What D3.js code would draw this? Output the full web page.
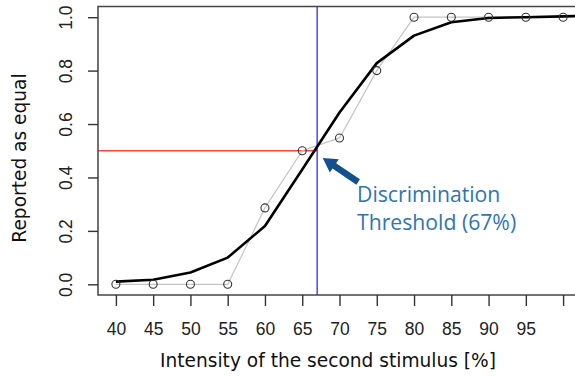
<!DOCTYPE html>
<html>
<head>
<meta charset="utf-8">
<script src="https://cdn.jsdelivr.net/npm/d3@7"></script>
<style>
  html, body { margin: 0; padding: 0; background: #fff; }
  svg { display: block; }
</style>
</head>
<body>
<div id="chart"></div>
<script>
// Observed proportions per stimulus intensity.
const intensities = [40, 45, 50, 55, 60, 65, 70, 75, 80, 85, 90, 95, 100];
const proportions = [0, 0, 0, 0, 0.286, 0.5, 0.548, 0.8, 1, 1, 1, 1, 1];

// Fitted psychometric curve.
const fitX = [40, 45, 50, 55, 60, 65, 70, 75, 80, 85, 90, 95, 100, 105];
const fitY = [0.01, 0.017, 0.044, 0.1, 0.218, 0.43, 0.643, 0.828, 0.931, 0.981, 0.997, 1.0, 1.003, 1.006];

const xTicks = [40, 45, 50, 55, 60, 65, 70, 75, 80, 85, 90, 95, 100];
const xTickLabels = ["40", "45", "50", "55", "60", "65", "70", "75", "80", "85", "90", "95", ""];
const yTicks = [0, 0.2, 0.4, 0.6, 0.8, 1.0];

const threshold = 67;
const thresholdLevel = 0.5;
const annotationLines = ["Discrimination", "Threshold (67%)"];

const width = 575;
const height = 376;
const margin = {top: 6.5, right: -6, bottom: 81, left: 98};

const svg = d3.select("#chart")
    .append("svg")
    .attr("width", width)
    .attr("height", height);

// R style: axes pad the data range by 4% each side.
const x = d3.scaleLinear().domain([37.6, 102.4]).range([margin.left, width - margin.right]);
const y = d3.scaleLinear().domain([-0.04, 1.04]).range([height - margin.bottom, margin.top]);

svg.append("clipPath").attr("id", "plotclip")
    .append("rect")
    .attr("x", margin.left).attr("y", margin.top)
    .attr("width", width - margin.right - margin.left)
    .attr("height", height - margin.bottom - margin.top);

const plot = svg.append("g").attr("clip-path", "url(#plotclip)");

// Threshold guides.
plot.append("line")
    .attr("x1", margin.left).attr("x2", x(threshold))
    .attr("y1", y(thresholdLevel)).attr("y2", y(thresholdLevel))
    .attr("stroke", "#ff4b2b")
    .attr("stroke-width", 1.3);

plot.append("line")
    .attr("x1", x(threshold)).attr("x2", x(threshold))
    .attr("y1", margin.top).attr("y2", height - margin.bottom)
    .attr("stroke", "#1a1aff")
    .attr("stroke-width", 1.2);

// Data connecting line (grey).
const obs = intensities.map((d, i) => [d, proportions[i]]);
plot.append("path")
    .datum(obs)
    .attr("fill", "none")
    .attr("stroke", "#c4c4c4")
    .attr("stroke-width", 1.2)
    .attr("d", d3.line().x(d => x(d[0])).y(d => y(d[1])));

// Fitted curve.
const fit = fitX.map((d, i) => [d, fitY[i]]);
plot.append("path")
    .datum(fit)
    .attr("fill", "none")
    .attr("stroke", "#000")
    .attr("stroke-width", 2.6)
    .attr("stroke-linejoin", "round")
    .attr("d", d3.line().x(d => x(d[0])).y(d => y(d[1])));

// Open circles.
plot.selectAll("circle.pt")
    .data(obs)
    .enter()
    .append("circle")
    .attr("class", "pt")
    .attr("cx", d => x(d[0]))
    .attr("cy", d => y(d[1]))
    .attr("r", 4)
    .attr("fill", "none")
    .attr("stroke", "#333")
    .attr("stroke-width", 1.1);

// Box.
svg.append("rect")
    .attr("x", margin.left).attr("y", margin.top)
    .attr("width", width - margin.right - margin.left)
    .attr("height", height - margin.bottom - margin.top)
    .attr("fill", "none")
    .attr("stroke", "#444")
    .attr("stroke-width", 1.5);

// X axis.
const xAxis = svg.append("g")
    .attr("transform", `translate(0,${height - margin.bottom})`)
    .call(d3.axisBottom(x).tickValues(xTicks).tickSize(11).tickFormat((d, i) => xTickLabels[i]));
xAxis.select(".domain").remove();
xAxis.selectAll(".tick line").attr("stroke", "#333").attr("stroke-width", 1.4);
xAxis.selectAll(".tick text")
    .attr("y", 40).attr("dy", 0)
    .attr("font-family", "Liberation Sans, Arial, sans-serif")
    .attr("font-size", "17.5px")
    .attr("fill", "#222");

// Y axis with rotated labels.
const yAxis = svg.append("g")
    .attr("transform", `translate(${margin.left},0)`)
    .call(d3.axisLeft(y).tickValues(yTicks).tickSize(10).tickFormat(d3.format(".1f")));
yAxis.select(".domain").remove();
yAxis.selectAll(".tick line").attr("stroke", "#333").attr("stroke-width", 1.4);
yAxis.selectAll(".tick text")
    .attr("transform", "rotate(-90)")
    .attr("x", 0).attr("y", -26).attr("dy", 0)
    .attr("text-anchor", "middle")
    .attr("font-family", "Liberation Sans, Arial, sans-serif")
    .attr("font-size", "17.5px")
    .attr("fill", "#222");

// Axis titles.
svg.append("text")
    .attr("x", 328)
    .attr("y", 367)
    .attr("text-anchor", "middle")
    .attr("font-family", "DejaVu Sans, Verdana, sans-serif")
    .attr("font-size", "18.6px")
    .attr("fill", "#111")
    .text("Intensity of the second stimulus [%]");

svg.append("text")
    .attr("transform", `translate(26,158) rotate(-90)`)
    .attr("text-anchor", "middle")
    .attr("font-family", "DejaVu Sans, Verdana, sans-serif")
    .attr("font-size", "18.6px")
    .attr("fill", "#111")
    .text("Reported as equal");

// Annotation arrow, drawn in data space.
const arrowTail = [72.5, 0.383];
const arrowTip = [67.75, 0.473];
const tx = x(arrowTail[0]), ty = y(arrowTail[1]);
const hx = x(arrowTip[0]), hy = y(arrowTip[1]);
const ang = Math.atan2(hy - ty, hx - tx);
const len = Math.hypot(hx - tx, hy - ty);
const headLen = 14, headW = 8, shaftW = 3.2;
const arrowPts = [
    [0, -shaftW], [len - headLen, -shaftW], [len - headLen, -headW],
    [len, 0], [len - headLen, headW], [len - headLen, shaftW], [0, shaftW]
];
svg.append("path")
    .attr("d", "M" + arrowPts.map(p => p.join(",")).join("L") + "Z")
    .attr("transform", `translate(${tx},${ty}) rotate(${ang * 180 / Math.PI})`)
    .attr("fill", "#15508e");

const note = svg.append("text")
    .attr("font-family", "Open Sans, Noto Sans, sans-serif")
    .attr("font-size", "21.2px")
    .attr("fill", "#2e75b6");
annotationLines.forEach((t, i) => {
    note.append("tspan")
        .attr("x", x(72.35))
        .attr("y", y(0.309) + i * 28.5)
        .text(t);
});
</script>
</body>
</html>
